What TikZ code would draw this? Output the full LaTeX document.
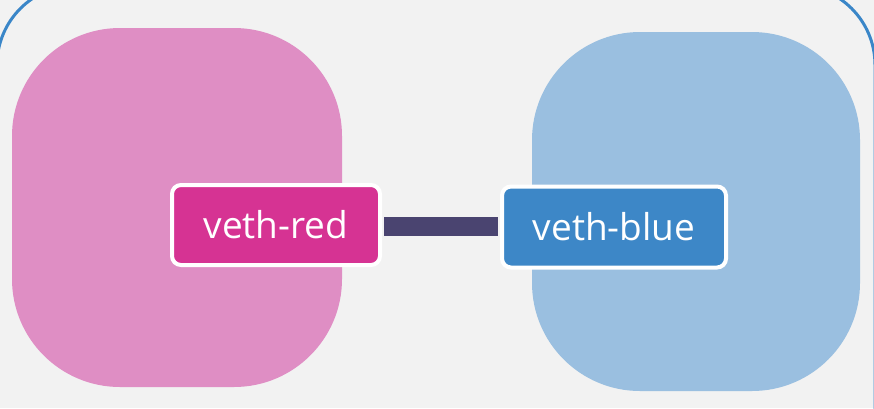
\documentclass[tikz,border=0pt]{standalone}
\usepackage{fontspec}
\setmainfont{Open Sans}
\usetikzlibrary{backgrounds}
\definecolor{bg}{HTML}{F2F2F2}
\definecolor{pinkns}{HTML}{DF8EC4}
\definecolor{bluens}{HTML}{9ABFE0}
\definecolor{redif}{HTML}{D63393}
\definecolor{blueif}{HTML}{3D87C7}
\definecolor{wire}{HTML}{4A4470}
\definecolor{outline}{HTML}{3A86C8}
\tikzset{
  ns/.style={rounded corners=108pt},
  iface/.style={draw=white, line width=4pt, rounded corners=9pt, text=white,
    font=\fontsize{37}{44}\selectfont, inner sep=0pt},
  wirestyle/.style={draw=wire, line width=19pt}
}
\begin{document}
\begin{tikzpicture}[x=1pt,y=-1pt]
\useasboundingbox (0,0) rectangle (874,408);
\fill[bg] (0,0) rectangle (874,408);
\draw[outline, line width=3pt, rounded corners=80pt] (-3,470) -- (-3,-15) -- (875,-15) -- (875,470);
\fill[pinkns, ns] (12,28) rectangle (342,387);
\fill[bluens, ns] (532,32) rectangle (860,391);
\node[iface, fill=redif, minimum width=208pt, minimum height=80pt] (red) at (276,225) {veth-red};
\node[iface, fill=blueif, minimum width=224pt, minimum height=81pt] (blue) at (614,227) {veth-blue};
\begin{pgfonlayer}{background}
\end{pgfonlayer}
\draw[wirestyle] ([xshift=2pt]red.east |- 0,226) -- ([xshift=-2pt]blue.west |- 0,226);
\end{tikzpicture}
\end{document}
